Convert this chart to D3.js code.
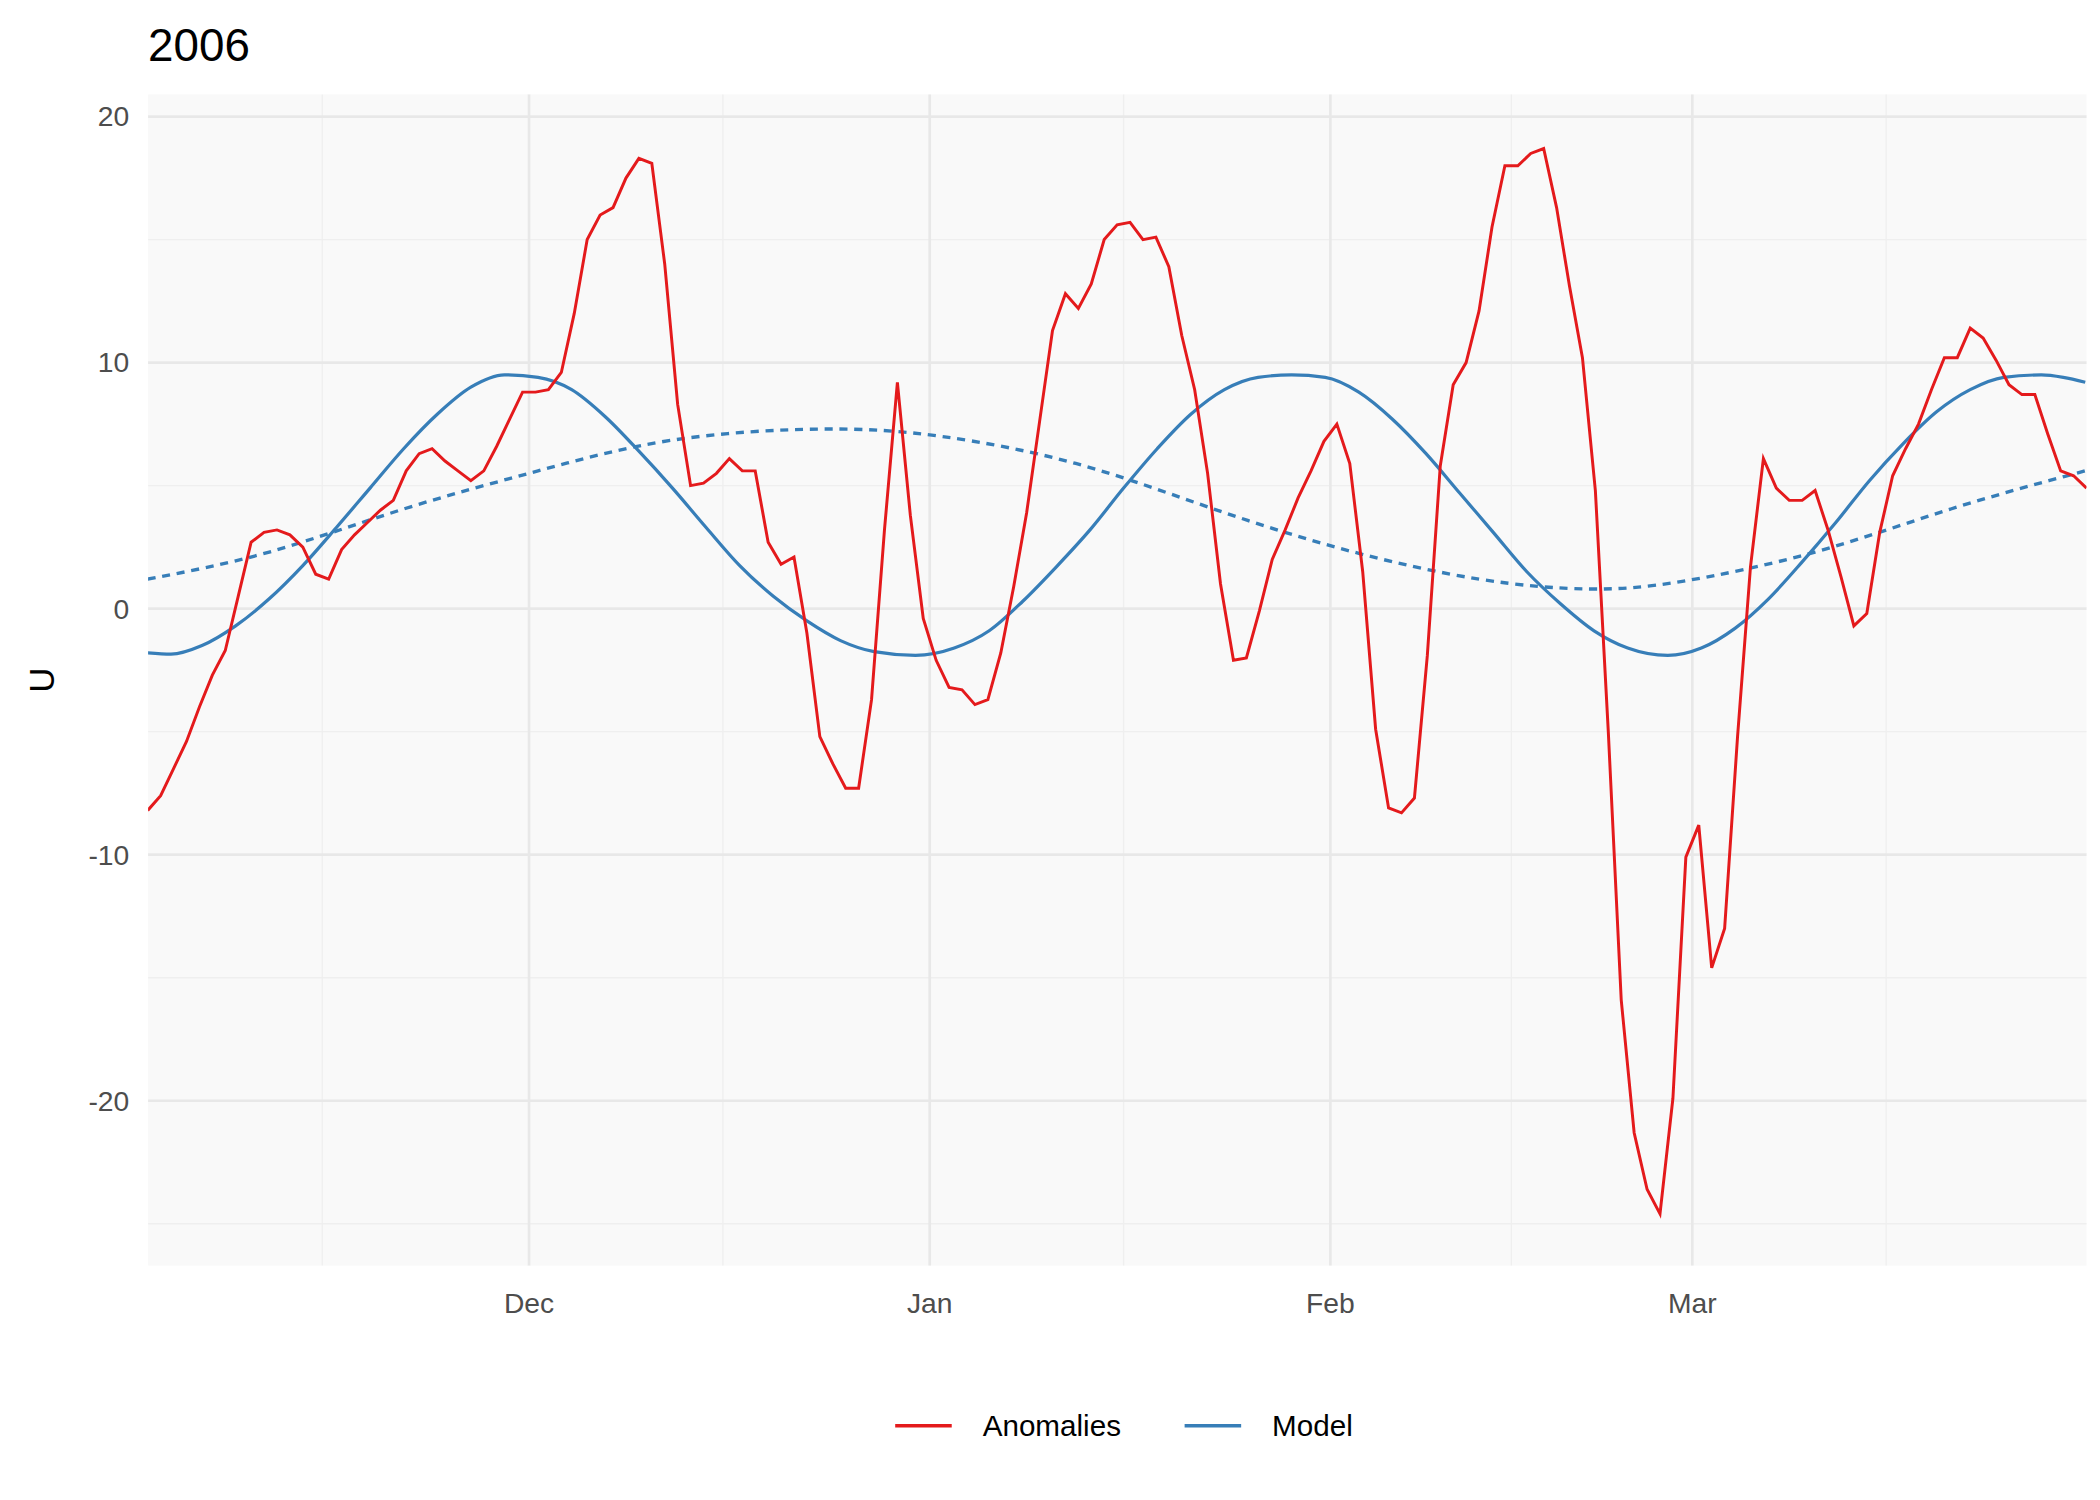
<!DOCTYPE html>
<html>
<head>
<meta charset="utf-8">
<script src="https://cdn.jsdelivr.net/npm/d3@7"></script>
<style>
  body { margin: 0; background: #fff; }
  text { font-family: "Liberation Sans", Arial, sans-serif; }
</style>
</head>
<body>
<svg id="chart"></svg>
<script>
'use strict'

// daily anomalies, one value per day from 1 Nov 2006 (noon)
const anomalies = [
  -8.2, -7.6, -6.5, -5.4, -4.0, -2.7, -1.7, 0.5, 2.7, 3.1,
  3.2, 3.0, 2.5, 1.4, 1.2, 2.4, 3.0, 3.5, 4.0, 4.4,
  5.6, 6.3, 6.5, 6.0, 5.6, 5.2, 5.6, 6.6, 7.7, 8.8,
  8.8, 8.9, 9.6, 12.0, 15.0, 16.0, 16.3, 17.5, 18.3, 18.1,
  14.0, 8.3, 5.0, 5.1, 5.5, 6.1, 5.6, 5.6, 2.7, 1.8,
  2.1, -1.0, -5.2, -6.3, -7.3, -7.3, -3.7, 3.2, 9.2, 3.8,
  -0.4, -2.1, -3.2, -3.3, -3.9, -3.7, -1.8, 0.9, 3.9, 7.6,
  11.3, 12.8, 12.2, 13.2, 15.0, 15.6, 15.7, 15.0, 15.1, 13.9,
  11.1, 8.9, 5.5, 1.0, -2.1, -2.0, -0.1, 2.0, 3.2, 4.5,
  5.6, 6.8, 7.5, 5.9, 1.5, -4.9, -8.1, -8.3, -7.7, -1.9,
  5.8, 9.1, 10.0, 12.1, 15.5, 18.0, 18.0, 18.5, 18.7, 16.3,
  13.1, 10.2, 4.8, -5.0, -15.9, -21.3, -23.6, -24.6, -19.9, -10.1,
  -8.8, -14.6, -13.0, -5.2, 1.7, 6.1, 4.9, 4.4, 4.4, 4.8,
  3.2, 1.3, -0.7, -0.2, 3.1, 5.4, 6.5, 7.5, 8.9, 10.2,
  10.2, 11.4, 11.0, 10.1, 9.1, 8.7, 8.7, 7.1, 5.6, 5.4, 4.9
]

// model (solid): day offset from 1 Nov noon and value
const modelDays = [0, 1.8, 4.2, 6.8, 9.4, 12.0, 14.6, 17.2, 19.8, 22.4, 25.0, 27.6, 30.2, 32.8, 35.4, 38.0,
  40.6, 43.2, 45.8, 48.4, 51.0, 53.6, 56.2, 59.4, 62.4, 65.1, 67.7, 70.3, 72.9, 75.5, 78.1, 80.7, 83.3,
  85.9, 88.5, 91.1, 93.7, 96.3, 98.9, 101.5, 104.1, 106.7, 109.3, 111.9, 114.5, 117.6, 120.2, 122.8,
  125.4, 128.0, 130.6, 133.2, 135.8, 138.4, 141.0, 143.6, 146.5, 148.2, 149.9]
const modelValues = [-1.8, -1.85, -1.5, -0.7, 0.4, 1.75, 3.3, 4.9, 6.5, 7.9, 9.0, 9.5, 9.4, 8.9, 7.8, 6.4,
  4.9, 3.3, 1.75, 0.5, -0.5, -1.3, -1.75, -1.9, -1.6, -0.9, 0.3, 1.7, 3.2, 4.9, 6.5, 7.9, 8.9,
  9.4, 9.5, 9.4, 8.8, 7.7, 6.3, 4.7, 3.1, 1.5, 0.2, -0.9, -1.6, -1.9, -1.6, -0.8,
  0.4, 1.9, 3.5, 5.2, 6.7, 8.0, 8.9, 9.4, 9.5, 9.4, 9.2]

// seasonal model (dashed)
const seasonDays = [0, 9.4, 19.8, 30.2, 40.6, 52.1, 61.4, 71.8, 82.2, 92.6, 103.0, 111.4, 118.6, 129.0, 139.5, 149.9]
const seasonValues = [1.2, 2.3, 4.05, 5.6, 6.85, 7.3, 7.0, 5.9, 4.1, 2.4, 1.2, 0.8, 1.1, 2.3, 4.05, 5.6]

const yTicks = [-20, -10, 0, 10, 20]
const yMinor = [-25, -15, -5, 5, 15]
const xTickLabels = ['Dec', 'Jan', 'Feb', 'Mar']

const W = 1560, H = 1114
const m = { left: 110, right: 1550, top: 70, bottom: 940 }
const start = new Date(2006, 10, 1, 12)
const dayToDate = (d) => new Date(start.getTime() + d * 864e5)

const svg = d3.select('#chart')
  .attr('width', 2100).attr('height', 1500)
  .attr('viewBox', `0 0 ${W} ${H}`)

const x = d3.scaleTime()
  .domain([new Date(2006, 10, 1, 12, 40), new Date(2007, 2, 31, 12)])
  .range([m.left, m.right])
const y = d3.scaleLinear().domain([-26.7, 20.9]).range([m.bottom, m.top])

svg.append('rect').attr('x', m.left).attr('y', m.top)
  .attr('width', m.right - m.left).attr('height', m.bottom - m.top).attr('fill', '#f9f9f9')

const monthTicks = xTickLabels.map((s, i) => new Date(2006, 11 + i, 1))
const xMinor = [new Date(2006, 10, 15), new Date(2006, 11, 16), new Date(2007, 0, 16), new Date(2007, 1, 15), new Date(2007, 2, 16)]

const grid = svg.append('g')
grid.selectAll('.ymin').data(yMinor).join('line')
  .attr('x1', m.left).attr('x2', m.right).attr('y1', y).attr('y2', y)
  .attr('stroke', '#efefef').attr('stroke-width', 1)
grid.selectAll('.xmin').data(xMinor).join('line')
  .attr('y1', m.top).attr('y2', m.bottom).attr('x1', x).attr('x2', x)
  .attr('stroke', '#efefef').attr('stroke-width', 1)
grid.selectAll('.ymaj').data(yTicks).join('line')
  .attr('x1', m.left).attr('x2', m.right).attr('y1', y).attr('y2', y)
  .attr('stroke', '#e8e8e8').attr('stroke-width', 2)
grid.selectAll('.xmaj').data(monthTicks).join('line')
  .attr('y1', m.top).attr('y2', m.bottom).attr('x1', x).attr('x2', x)
  .attr('stroke', '#e8e8e8').attr('stroke-width', 2)

// axes labels
svg.append('g').selectAll('text').data(yTicks).join('text')
  .attr('x', m.left - 14).attr('y', y).attr('dy', '0.35em')
  .attr('text-anchor', 'end').attr('font-size', 21).attr('fill', '#4d4d4d')
  .text((d) => d)
svg.append('g').selectAll('text').data(monthTicks).join('text')
  .attr('x', x).attr('y', 975).attr('text-anchor', 'middle')
  .attr('font-size', 21).attr('fill', '#4d4d4d')
  .text((d, i) => xTickLabels[i])

svg.append('text').attr('transform', 'translate(40,505) rotate(-90)')
  .attr('text-anchor', 'middle').attr('font-size', 26).attr('fill', '#000').text('U')
svg.append('text').attr('x', 110).attr('y', 45).attr('font-size', 34).attr('fill', '#000').text('2006')

// lines
svg.append('clipPath').attr('id', 'clip').append('rect')
  .attr('x', m.left).attr('y', m.top).attr('width', m.right - m.left).attr('height', m.bottom - m.top)
const plot = svg.append('g').attr('clip-path', 'url(#clip)')

const line = d3.line().x((d) => x(d[0])).y((d) => y(d[1]))
const smooth = d3.line().x((d) => x(d[0])).y((d) => y(d[1])).curve(d3.curveMonotoneX)

plot.append('path')
  .datum(seasonDays.map((d, i) => [dayToDate(d), seasonValues[i]]))
  .attr('d', d3.line().x((d) => x(d[0])).y((d) => y(d[1])).curve(d3.curveNatural))
  .attr('fill', 'none').attr('stroke', '#377eb8')
  .attr('stroke-width', 2.5).attr('stroke-dasharray', '6,5')
plot.append('path')
  .datum(modelDays.map((d, i) => [dayToDate(d), modelValues[i]]))
  .attr('d', smooth).attr('fill', 'none').attr('stroke', '#377eb8').attr('stroke-width', 2.4)
plot.append('path')
  .datum(anomalies.map((v, i) => [dayToDate(i), v]))
  .attr('d', line).attr('fill', 'none').attr('stroke', '#e41a1c').attr('stroke-width', 2.2)

// legend
const legend = [['Anomalies', '#e41a1c', 665], ['Model', '#377eb8', 880]]
legend.forEach(([label, color, lx]) => {
  svg.append('line').attr('x1', lx).attr('x2', lx + 42).attr('y1', 1059).attr('y2', 1059)
    .attr('stroke', color).attr('stroke-width', 2.5)
  svg.append('text').attr('x', lx + 65).attr('y', 1059).attr('dy', '0.35em')
    .attr('font-size', 22).attr('fill', '#000').text(label)
})
</script>
</body>
</html>
